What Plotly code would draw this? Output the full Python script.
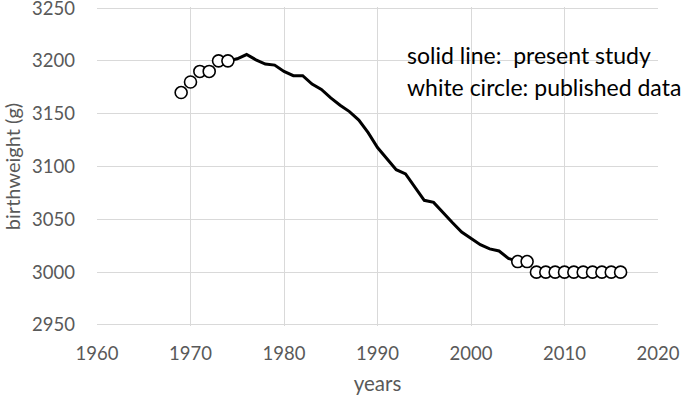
import plotly.graph_objects as go

# published data (white circles)
pub_years = [1969, 1970, 1971, 1972, 1973, 1974,
             2005, 2006, 2007, 2008, 2009, 2010, 2011, 2012, 2013, 2014, 2015, 2016]
pub_values = [3170, 3180, 3190, 3190, 3200, 3200,
              3010, 3010, 3000, 3000, 3000, 3000, 3000, 3000, 3000, 3000, 3000, 3000]

# present study (solid line)
study_years = list(range(1974, 2006))
study_values = [3200, 3202, 3206, 3201, 3197, 3196, 3190, 3186, 3186, 3178,
                3173, 3165, 3158, 3152, 3144, 3132, 3118, 3107, 3097, 3093,
                3080, 3068, 3066, 3056, 3047, 3038, 3032, 3026, 3022, 3020,
                3013, 3010]

x_ticks = [1960, 1970, 1980, 1990, 2000, 2010, 2020]
y_ticks = [2950, 3000, 3050, 3100, 3150, 3200, 3250]

FONT = "Lato"
GRAY = "#595959"
GRID = "#d9d9d9"

fig = go.Figure()
fig.add_trace(go.Scatter(x=study_years, y=study_values, mode="lines",
                         line=dict(color="black", width=3), showlegend=False, cliponaxis=False))
fig.add_trace(go.Scatter(x=pub_years, y=pub_values, mode="markers",
                         marker=dict(symbol="circle", size=12, color="white",
                                     line=dict(color="black", width=1.6)),
                         showlegend=False, cliponaxis=False))

fig.add_annotation(xref="paper", yref="paper", x=0.549, y=0.85, xanchor="left", yanchor="middle",
                   text="solid line:  present study", showarrow=False,
                   font=dict(family=FONT, size=23, color="black"))
fig.add_annotation(xref="paper", yref="paper", x=0.549, y=0.749, xanchor="left", yanchor="middle",
                   text="white circle: published data", showarrow=False,
                   font=dict(family=FONT, size=23, color="black"))

fig.update_layout(
    width=685, height=396,
    margin=dict(l=97, r=27, t=7, b=70),
    paper_bgcolor="white", plot_bgcolor="white",
    font=dict(family=FONT, color=GRAY, size=18.5),
    xaxis=dict(range=[1960, 2020], tickvals=x_ticks, showgrid=True, gridcolor=GRID, gridwidth=1.3,
               zeroline=False, showline=False, automargin=False, ticklabeloverflow="allow",
               title=dict(text="years", font=dict(size=20.5, color=GRAY), standoff=14),
               tickfont=dict(size=18.5, color=GRAY), ticks="", ticklabelstandoff=14),
    yaxis=dict(range=[2949, 3251], tickvals=y_ticks, showgrid=True, gridcolor=GRID, gridwidth=1.3,
               zeroline=False, showline=False, automargin=False, ticklabeloverflow="allow",
               title=dict(text="birthweight (g)", font=dict(size=20, color=GRAY), standoff=12),
               tickfont=dict(size=18.5, color=GRAY), ticks="", ticklabelstandoff=21),
)

fig.write_html("out.html", config={"displayModeBar": False},
               post_script="document.body.style.margin='0';document.body.style.overflow='hidden';")
